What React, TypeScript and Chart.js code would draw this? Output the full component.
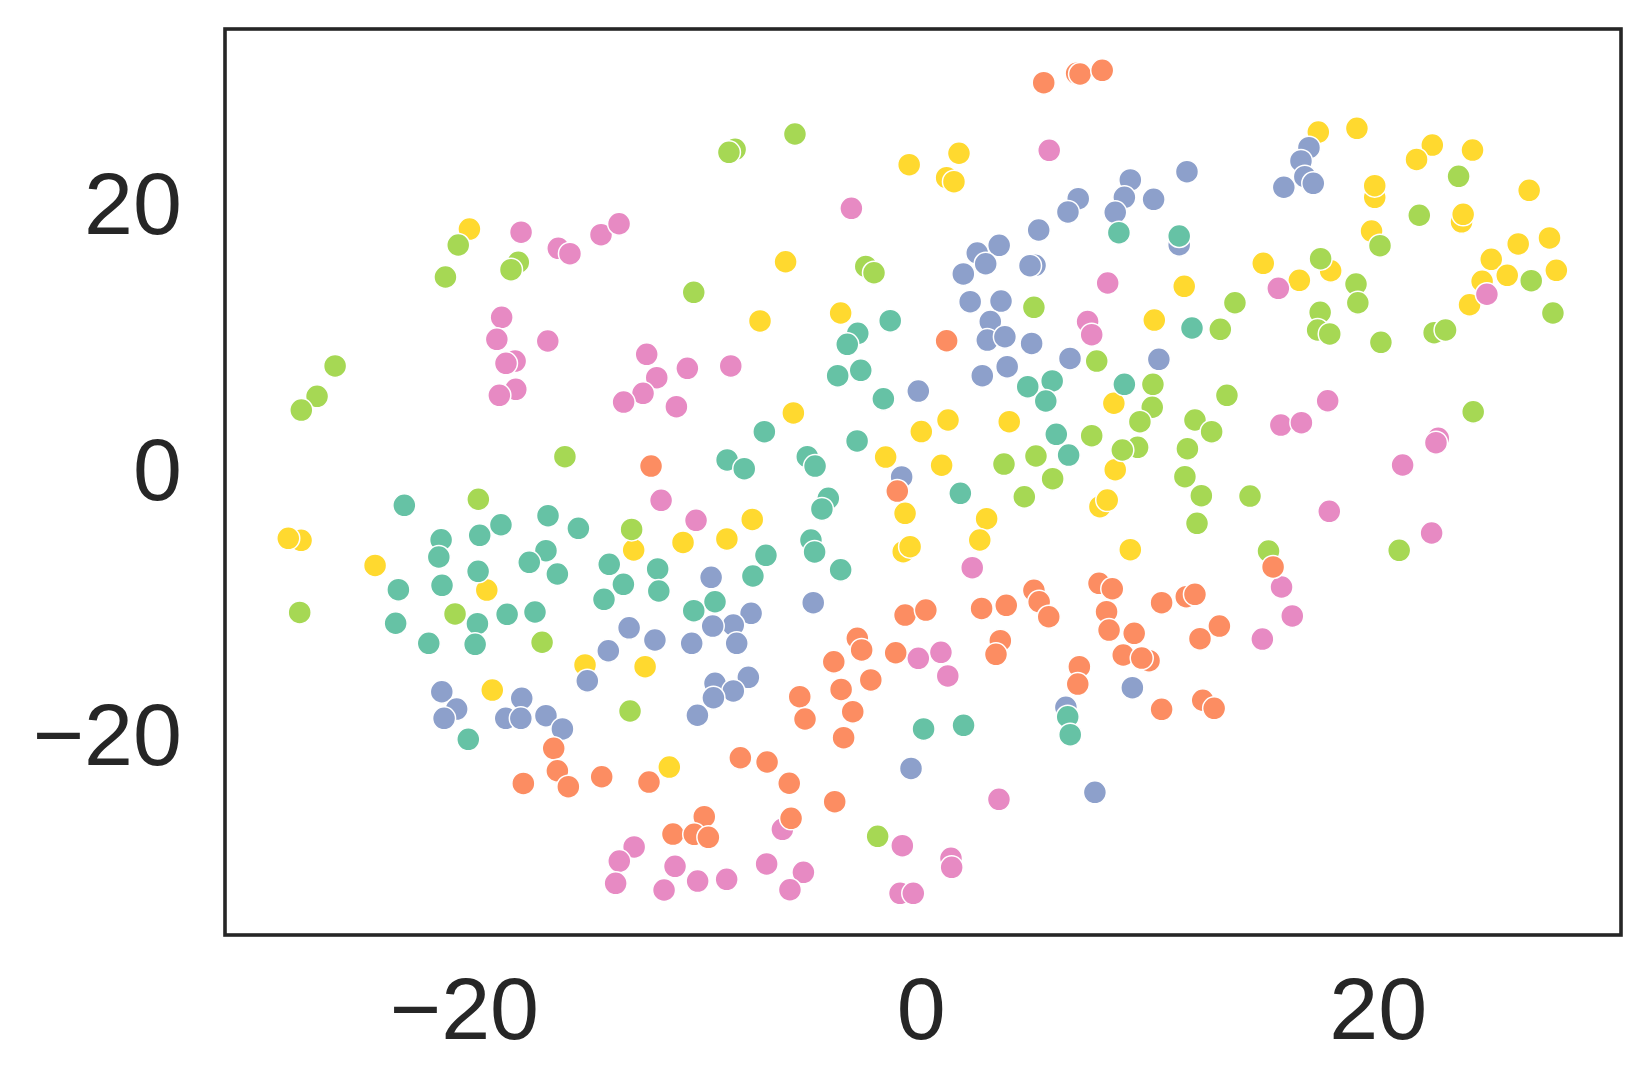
import { useEffect, useRef } from "react";
import { Chart, registerables } from "chart.js";

Chart.register(...registerables);

// Axis limits and ticks
const xLimits = [-30.48, 30.63];
const yLimits = [-34.62, 33.62];
const xTickValues = [-20, 0, 20];
const yTickValues = [-20, 0, 20];

// Series (Set2 palette order)
const tealPoints: [number, number][] = [
  [-2.78, 10.7], [-1.36, 11.65], [8.65, 18.28], [11.29, 18.03], [11.85, 11.1],
  [-22.63, -2.26], [-18.4, -3.72], [-16.34, -3.04], [-19.33, -4.52], [-21.02, -4.85],
  [-21.12, -6.15], [-16.43, -5.67], [-17.16, -6.55], [-15.93, -7.43], [-19.4, -7.23],
  [-22.89, -8.61], [-20.98, -8.28], [-23.01, -11.14], [-19.43, -11.17], [-18.13, -10.47],
  [-16.91, -10.29], [-15.01, -3.99], [-3.24, 9.87], [-3.66, 7.51], [-2.65, 7.91],
  [-1.66, 5.77], [-6.87, 3.29], [-2.81, 2.59], [-8.5, 1.16], [-7.75, 0.5],
  [-4.99, 1.41], [-4.65, 0.7], [-4.07, -1.73], [-4.35, -2.53], [-4.83, -4.87],
  [-4.67, -5.77], [-6.8, -6.02], [-7.37, -7.58], [-3.53, -7.11], [-13.66, -6.7],
  [-13.04, -8.21], [-13.89, -9.34], [-11.54, -7.05], [-11.49, -8.71], [-9.03, -9.52],
  [-9.96, -10.19], [4.66, 6.68], [5.73, 7.11], [5.45, 5.6], [8.89, 6.86],
  [5.91, 3.09], [6.45, 1.53], [1.71, -1.35], [-21.56, -12.65], [-19.53, -12.73],
  [-19.83, -19.88], [0.1, -19.1], [1.85, -18.83], [6.41, -18.18], [6.52, -19.53],
];

const orangePoints: [number, number][] = [
  [5.36, 29.58], [6.8, 30.28], [6.95, 30.23], [7.92, 30.51],
  [-11.83, 0.7], [-1.05, -1.18], [-0.71, -10.52],
  [1.11, 10.14], [0.2, -10.15], [7.78, -8.13], [8.36, -8.54], [4.93, -8.66],
  [5.16, -9.52], [5.58, -10.65], [3.72, -9.79], [2.64, -10.02], [10.52, -9.59],
  [11.6, -9.14], [11.98, -8.96], [8.11, -10.27], [8.22, -11.65], [9.32, -11.9],
  [13.05, -11.35], [12.2, -12.3], [15.4, -6.9],
  [3.46, -12.45], [3.27, -13.48], [6.92, -14.41], [6.85, -15.72], [8.84, -13.53],
  [9.97, -13.96], [9.65, -13.76], [10.52, -17.62], [12.32, -16.94], [12.82, -17.55],
  [-2.8, -12.27], [-2.61, -13.15], [-1.12, -13.36], [-3.83, -14.04], [-2.21, -15.41],
  [-3.51, -16.12], [-5.32, -16.67], [-5.09, -18.35], [-3.0, -17.8], [-3.4, -19.76],
  [-7.92, -21.27], [-6.75, -21.59], [-5.78, -23.19], [-3.79, -24.58], [-11.92, -23.1],
  [-13.99, -22.7], [-5.7, -25.83], [-9.5, -25.71], [-10.87, -27.02], [-9.94, -27.04],
  [-9.32, -27.26], [-16.09, -20.56], [-15.93, -22.25], [-15.45, -23.45], [-17.42, -23.2],
];

const bluePoints: [number, number][] = [
  [11.63, 22.87], [15.87, 21.7], [9.15, 22.25], [8.89, 20.94], [10.17, 20.79],
  [8.49, 19.81], [6.87, 20.84], [6.42, 19.84], [5.14, 18.48], [11.29, 17.37],
  [2.45, 16.75], [3.41, 17.33], [2.82, 15.94], [1.84, 15.17], [4.98, 15.82],
  [4.76, 15.79], [2.14, 13.08], [3.49, 13.13], [3.02, 11.58],
  [16.97, 24.68], [16.62, 23.68], [16.79, 22.5], [17.16, 22.0],
  [2.89, 10.19], [3.66, 10.44], [4.83, 9.94], [6.51, 8.81], [10.4, 8.74],
  [3.76, 8.19], [2.67, 7.51],
  [-0.13, 6.35], [-0.86, -0.12], [-9.2, -7.68], [-7.45, -10.39], [-8.23, -11.27],
  [-9.13, -11.35], [-12.79, -11.48], [-4.73, -9.59],
  [-11.66, -12.4], [-10.05, -12.65], [-8.08, -12.65], [-13.7, -13.21], [-14.62, -15.47],
  [-9.03, -15.66], [-7.57, -15.21], [-8.23, -16.24], [-9.1, -16.75], [-9.8, -18.07],
  [-0.45, -22.07],
  [-20.99, -16.3], [-20.34, -17.6], [-20.89, -18.3], [-17.49, -16.79], [-18.19, -18.3],
  [-17.53, -18.3], [-16.43, -18.1], [-15.71, -19.1],
  [9.24, -15.99], [6.33, -17.47], [7.6, -23.87],
];

const pinkPoints: [number, number][] = [
  [-17.52, 18.32], [-15.89, 17.1], [-15.38, 16.7], [-18.37, 11.9],
  [-14.02, 18.13], [-13.23, 18.95], [-3.06, 20.11],
  [5.6, 24.48], [8.16, 14.49], [7.28, 11.58], [7.46, 10.6],
  [15.63, 14.09], [24.76, 13.64],
  [-18.58, 10.25], [-16.35, 10.12], [-17.78, 8.61], [-18.18, 8.44], [-17.75, 6.48], [-18.47, 6.03],
  [-12.02, 9.12], [-10.24, 8.06], [-8.34, 8.24], [-11.58, 7.36], [-12.18, 6.18],
  [-13.03, 5.52], [-10.72, 5.17], [-11.39, -1.88], [-9.86, -3.39],
  [2.23, -6.95],
  [15.74, 3.79], [16.64, 3.97], [17.79, 5.62], [22.63, 2.79], [22.53, 2.46],
  [21.07, 0.78], [17.86, -2.71], [22.34, -4.34], [15.77, -8.41], [16.24, -10.59],
  [14.93, -12.33], [0.86, -13.33], [1.16, -15.11], [3.4, -24.4], [1.3, -28.84], [1.33, -29.52],
  [-0.13, -13.78], [-0.93, -31.48], [-0.35, -31.48], [-6.08, -26.66], [-0.83, -27.89],
  [-12.57, -27.99], [-13.22, -29.05], [-13.38, -30.73], [-10.78, -29.45], [-11.26, -31.23],
  [-9.79, -30.56], [-8.52, -30.43], [-6.77, -29.27], [-5.16, -29.9], [-5.75, -31.21],
];

const greenPoints: [number, number][] = [
  [-20.27, 17.35], [-20.83, 14.94], [-17.64, 16.05], [-17.96, 15.49],
  [-8.15, 24.56], [-8.42, 24.33], [-5.53, 25.71], [-2.43, 15.74], [-2.07, 15.26], [-9.96, 13.79],
  [4.93, 12.66], [13.73, 13.0], [13.09, 11.0],
  [23.52, 22.52], [21.8, 19.59], [20.08, 17.3], [26.7, 14.66], [27.65, 12.23],
  [17.48, 16.32], [19.03, 14.41], [19.11, 13.0], [17.46, 12.28], [17.35, 10.95],
  [17.88, 10.65], [22.45, 10.75], [22.95, 10.95],
  [20.12, 10.02], [24.16, 4.79], [20.92, -5.65],
  [-25.66, 8.24], [-26.45, 5.95], [-27.14, 4.92], [-15.6, 1.41], [-19.39, -1.8],
  [-27.21, -10.32], [-20.41, -10.44], [-16.6, -12.57], [-12.68, -4.07],
  [7.68, 8.61], [10.14, 6.86], [10.11, 5.13], [9.57, 4.04], [13.38, 6.03],
  [7.46, 2.99], [5.02, 1.46], [3.62, 0.85], [5.75, -0.25], [4.51, -1.61],
  [9.47, 2.11], [8.8, 1.91], [11.98, 4.17], [12.71, 3.29], [11.65, 2.01],
  [11.54, -0.1], [12.26, -1.53], [14.39, -1.56], [12.07, -3.61], [15.2, -5.7],
  [-12.75, -17.75], [-1.91, -27.19],
];

const yellowPoints: [number, number][] = [
  [-19.78, 18.55],
  [-0.53, 23.4], [-5.94, 16.09], [-7.06, 11.63], [-3.53, 12.23],
  [1.65, 24.26], [1.11, 22.42], [1.43, 22.12], [11.51, 14.24], [14.97, 15.97], [10.2, 11.7],
  [17.38, 25.86], [19.07, 26.14], [22.37, 24.88], [21.68, 23.8], [24.13, 24.5],
  [26.61, 21.47], [19.85, 20.94], [19.85, 21.82], [23.65, 19.1], [23.72, 19.66],
  [19.71, 18.4], [27.5, 17.88], [26.13, 17.43], [24.95, 16.27], [25.65, 15.07],
  [24.55, 14.62], [24.0, 12.85], [27.8, 15.44], [17.92, 15.41], [16.55, 14.69],
  [-27.15, -4.89], [-27.71, -4.74], [-23.91, -6.78], [-19.02, -8.64],
  [-5.6, 4.7], [0.0, 3.3], [-1.56, 1.38], [-0.71, -2.86], [-0.79, -5.75], [-0.49, -5.37],
  [-7.4, -3.32], [-8.51, -4.79], [-10.43, -5.05], [-12.59, -5.62],
  [1.17, 4.17], [3.85, 4.04], [0.89, 0.76], [8.43, 5.43], [8.49, 0.43],
  [7.82, -2.36], [8.14, -1.86], [2.86, -3.26], [2.56, -4.87], [9.15, -5.6],
  [-18.78, -16.17], [-14.72, -14.28], [-12.09, -14.41], [-11.03, -21.97],
];

const seriesList = [
  { name: "teal", color: "#66c2a5", points: tealPoints },
  { name: "orange", color: "#fc8d62", points: orangePoints },
  { name: "blue", color: "#8da0cb", points: bluePoints },
  { name: "pink", color: "#e78ac3", points: pinkPoints },
  { name: "green", color: "#a6d854", points: greenPoints },
  { name: "yellow", color: "#ffd92f", points: yellowPoints },
];

const INK = "#262626";
const FONT = { family: "'Liberation Sans', Arial, sans-serif", size: 88 };

const fmt = (v: number) => (v < 0 ? "\u2212" + Math.abs(v) : String(v));

const framePlugin = {
  id: "frame",
  afterDatasetsDraw(chart: any) {
    const { ctx, chartArea } = chart;
    const { left, top, right, bottom } = chartArea;
    ctx.save();
    ctx.strokeStyle = INK;
    ctx.lineWidth = 3.6;
    ctx.strokeRect(left, top, right - left, bottom - top);
    ctx.restore();
  },
};

export default function App() {
  const canvasRef = useRef<HTMLCanvasElement | null>(null);

  useEffect(() => {
    const canvas = canvasRef.current;
    if (!canvas) return;
    const chart = new Chart(canvas, {
      type: "scatter",
      data: {
        datasets: seriesList.map((s) => ({
          label: s.name,
          data: s.points.map(([x, y]) => ({ x, y })),
          backgroundColor: s.color,
          borderColor: "#ffffff",
          borderWidth: 1.5,
          pointRadius: 11.5,
          pointHoverRadius: 11.5,
        })),
      },
      options: {
        animation: false,
        responsive: false,
        devicePixelRatio: 1,
        layout: { padding: { top: 29, right: 28, left: 0, bottom: 0 } },
        plugins: { legend: { display: false }, tooltip: { enabled: false } },
        scales: {
          x: {
            type: "linear",
            min: xLimits[0],
            max: xLimits[1],
            grid: { display: false, drawTicks: false },
            border: { display: false },
            afterBuildTicks: (scale: any) => {
              scale.ticks = xTickValues.map((v) => ({ value: v }));
            },
            afterFit: (scale: any) => {
              scale.height = 154;
              scale.paddingLeft = 0;
              scale.paddingRight = 0;
            },
            ticks: {
              color: INK,
              font: FONT,
              padding: 27,
              maxRotation: 0,
              autoSkip: false,
              callback: (v: any) => fmt(Number(v)),
            },
          },
          y: {
            type: "linear",
            min: yLimits[0],
            max: yLimits[1],
            grid: { display: false, drawTicks: false },
            border: { display: false },
            afterBuildTicks: (scale: any) => {
              scale.ticks = yTickValues.map((v) => ({ value: v }));
            },
            afterFit: (scale: any) => {
              scale.width = 225;
              scale.paddingTop = 0;
              scale.paddingBottom = 0;
            },
            ticks: {
              color: INK,
              font: FONT,
              padding: 43,
              autoSkip: false,
              callback: (v: any) => fmt(Number(v)),
            },
          },
        },
      },
      plugins: [framePlugin],
    });
    return () => chart.destroy();
  }, []);

  return (
    <div style={{ position: "fixed", left: 0, top: 0, width: 1649, height: 1089, background: "#fff" }}>
      <canvas ref={canvasRef} width={1649} height={1089} style={{ display: "block" }} />
    </div>
  );
}
